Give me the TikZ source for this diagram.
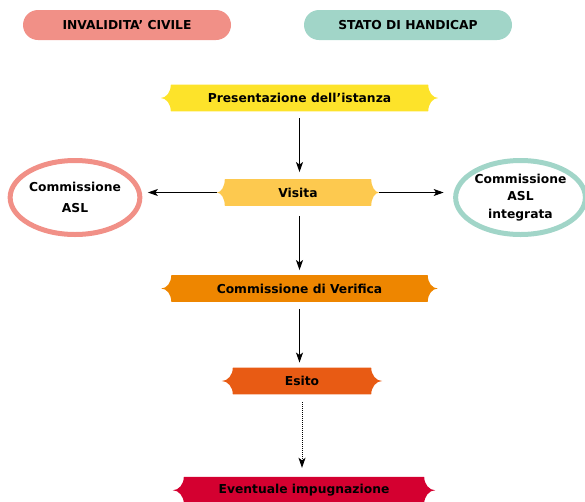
\documentclass[tikz,border=0pt]{standalone}
\usepackage{fontspec}
\setmainfont{DejaVu Sans}
\usetikzlibrary{arrows.meta,calc,backgrounds,shapes.geometric}
\definecolor{csalmon}{HTML}{F19087}
\definecolor{cteal}{HTML}{A1D5C8}
\definecolor{cpres}{HTML}{FDE32A}
\definecolor{cvis}{HTML}{FDC94F}
\definecolor{ccomm}{HTML}{EE8600}
\definecolor{cesito}{HTML}{E85B14}
\definecolor{cevent}{HTML}{D40030}
\tikzset{
  txt/.style={font=\bfseries\fontsize{12.3}{14}\selectfont, text=black},
  bannerbox/.style={txt, minimum height=26.5pt, inner sep=0pt},
  pill/.style={txt, rounded corners=15pt, minimum height=30pt, minimum width=208pt, inner sep=0pt},
  oval/.style={txt, ellipse, line width=5pt, minimum height=74pt, inner sep=0pt, align=center},
  arr/.style={-{Stealth[length=10pt,width=7pt,inset=2.5pt]}, line width=0.9pt},
}
\newcommand\bannerbg[3]{%
  \coordinate (#1-re) at ($(#1.east)+(#2pt,0pt)$);
  \coordinate (#1-le) at ($(#1.west)+(-#2pt,0pt)$);
  \fill[#3] (#1.north west) -- (#1.north east)
    .. controls ($(#1.north east)!0.55!(#1.east)$) and ($(#1-re)!0.55!(#1.east)$) .. (#1-re)
    .. controls ($(#1-re)!0.55!(#1.east)$) and ($(#1.south east)!0.55!(#1.east)$) .. (#1.south east)
    -- (#1.south west)
    .. controls ($(#1.south west)!0.55!(#1.west)$) and ($(#1-le)!0.55!(#1.west)$) .. (#1-le)
    .. controls ($(#1-le)!0.55!(#1.west)$) and ($(#1.north west)!0.55!(#1.west)$) .. (#1.north west) -- cycle;}
\begin{document}
\begin{tikzpicture}[x=1pt,y=-1pt]
\useasboundingbox (0,0) rectangle (585,501);
% header pills
\node[pill, fill=csalmon] (inv) at (127,25) {INVALIDITA’ CIVILE};
\node[pill, fill=cteal] (hand) at (408,25) {STATO DI HANDICAP};
% banners
\node[bannerbox, minimum width=257pt] (pres) at (299.5,98) {Presentazione dell’istanza};
\node[bannerbox, minimum width=146pt] (vis) at (298,192.5) {Visita};
\node[bannerbox, minimum width=256pt] (comm) at (299.5,288.5) {Commissione di Verifica};
\node[bannerbox, minimum width=138pt] (esito) at (302,381) {Esito};
\node[bannerbox, minimum width=240pt] (event) at (304,490.25) {Eventuale impugnazione};
\begin{scope}[on background layer]
  \bannerbg{pres}{10}{cpres}
  \bannerbg{vis}{8}{cvis}
  \bannerbg{comm}{10}{ccomm}
  \bannerbg{esito}{11}{cesito}
  \bannerbg{event}{11}{cevent}
\end{scope}
% ellipses
\node[oval, draw=csalmon, minimum width=129pt, execute at begin node=\setlength{\baselineskip}{21pt}] (casl) at (75,197.5) {Commissione\\ASL};
\node[oval, draw=cteal, minimum width=122pt, execute at begin node=\setlength{\baselineskip}{17.5pt}] (cint) at (520.5,197.5) {Commissione\\ASL\\integrata};
% connectors
\draw[arr] ([yshift=-7pt]pres.south) -- ([yshift=7pt]pres.south |- vis.north);
\draw[arr] ([yshift=-10pt]comm.north |- vis.south) -- ([yshift=5pt]comm.north);
\draw[arr] ([yshift=-7pt]comm.south) -- ([yshift=5pt]comm.south |- esito.north);
\draw[arr, dash pattern=on 1pt off 1pt] ([yshift=-8pt]esito.south) -- ([yshift=9pt]esito.south |- event.north);
\draw[arr] ([xshift=-8pt]vis.west) -- ([xshift=5.5pt]casl.east |- vis.west);
\draw[arr] ([xshift=8pt]vis.east) -- ([xshift=-9.5pt]cint.west |- vis.east);
\end{tikzpicture}
\end{document}
